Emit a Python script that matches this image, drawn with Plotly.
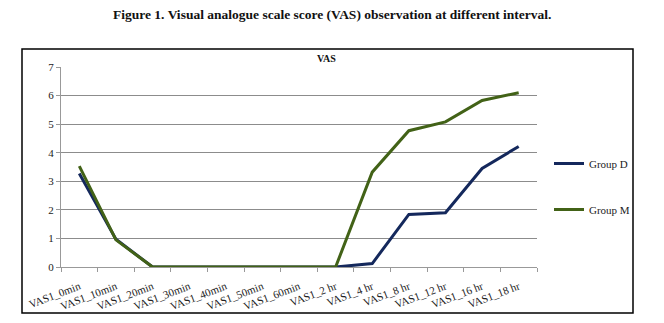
import plotly.graph_objects as go

categories = ["VAS1_0min", "VAS1_10min", "VAS1_20min", "VAS1_30min", "VAS1_40min",
              "VAS1_50min", "VAS1_60min", "VAS1_2 hr", "VAS1_4 hr", "VAS1_8 hr",
              "VAS1_12 hr", "VAS1_16 hr", "VAS1_18 hr"]
group_d = [3.27, 0.97, 0, 0, 0, 0, 0, 0, 0.12, 1.84, 1.9, 3.45, 4.22]
group_m = [3.53, 0.95, 0, 0, 0, 0, 0, 0, 3.32, 4.77, 5.08, 5.83, 6.1]

FONT = "Liberation Serif"
fig = go.Figure()
fig.add_trace(go.Scatter(x=categories, y=group_d, mode="lines", name="Group D",
                         line=dict(color="#14285c", width=3), legendgroup="d"))
fig.add_trace(go.Scatter(x=categories, y=group_m, mode="lines", name="Group M",
                         line=dict(color="#426217", width=3), legendgroup="m"))

L, R, T, B = 61, 127, 67, 56
pw, ph = 664 - L - R, 323 - T - B

def px(x):
    return (x - L) / pw

def py(y):
    return (323 - B - y) / ph

fig.update_layout(
    width=664, height=323,
    margin=dict(l=L, r=R, t=T, b=B),
    paper_bgcolor="white", plot_bgcolor="white",
    font=dict(family=FONT, color="#222", size=11),
    showlegend=True,
    legend=dict(x=px(549), y=py(149), xanchor="left", yanchor="top",
                tracegroupgap=27, font=dict(size=11, family=FONT, color="#222"),
                itemwidth=30, bgcolor="rgba(0,0,0,0)"),
    xaxis=dict(type="category", showgrid=False, showline=True, linecolor="#999",
               linewidth=1, ticks="outside", tickson="boundaries", ticklen=4,
               tickcolor="#999", tickangle=-21, ticklabelstandoff=8, automargin=False,
               tickfont=dict(size=11, family=FONT, color="#222"),
               range=[-0.5, 12.5]),
    yaxis=dict(range=[0, 7], dtick=1, showgrid=True, gridcolor="#8c8c8c", gridwidth=1,
               showline=True, linecolor="#999", ticks="outside", ticklen=4,
               tickcolor="#999", tickfont=dict(size=11, family=FONT, color="#222"),
               zeroline=False, automargin=False),
    shapes=[dict(type="rect", xref="paper", yref="paper", layer="below",
                 x0=px(22), x1=px(633), y0=py(313), y1=py(49),
                 line=dict(color="black", width=1.5), fillcolor="rgba(0,0,0,0)")],
    annotations=[
        dict(text="<b>Figure 1. Visual analogue scale score (VAS) observation at different interval.</b>",
             xref="paper", yref="paper", x=px(332), y=py(14), xanchor="center",
             yanchor="middle", showarrow=False, font=dict(size=13.5, family=FONT, color="#111")),
        dict(text="<b>VAS</b>", xref="paper", yref="paper", x=px(326), y=py(58),
             xanchor="center", yanchor="middle", showarrow=False,
             font=dict(size=10, family=FONT, color="#111")),
    ],
)

fig.write_html("out.html")
